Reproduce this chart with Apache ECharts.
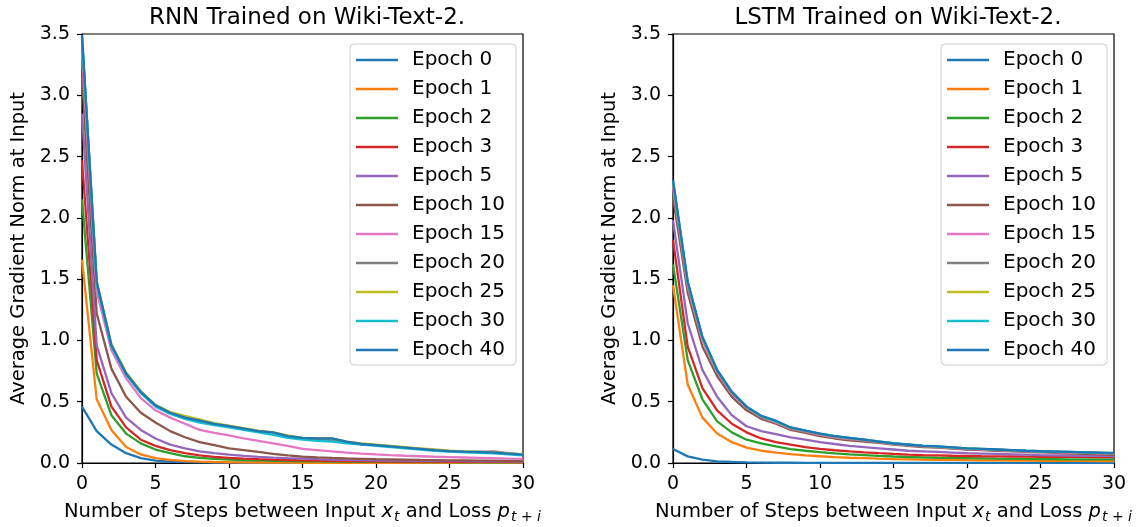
<!DOCTYPE html>
<html><head><meta charset="utf-8">
<script src="https://cdn.jsdelivr.net/npm/echarts@6/dist/echarts.min.js"></script>
<style>html,body{margin:0;padding:0;background:#fff}#c{width:1136px;height:527px}</style>
</head><body><div id="c"></div>
<script>
const steps = [0,1,2,3,4,5,6,7,8,9,10,11,12,13,14,15,16,17,18,19,20,21,22,23,24,25,26,27,28,29,30];
const seriesNames = ['Epoch 0','Epoch 1','Epoch 2','Epoch 3','Epoch 5','Epoch 10','Epoch 15','Epoch 20','Epoch 25','Epoch 30','Epoch 40'];
const colors = ['#1f77b4','#ff7f0e','#2ca02c','#d62728','#9467bd','#8c564b','#e377c2','#7f7f7f','#bcbd22','#17becf','#1f77b4'];
const yTicks = [0,0.5,1,1.5,2,2.5,3,3.5];
const xTicks = [0,5,10,15,20,25,30];

// RNN
const rnnE0  = [0.46,0.26,0.15,0.08,0.04,0.02,0.012,0.007,0.005,0.004,0.003,0.002,0.002,0.002,0.001,0.001,0.001,0.001,0.001,0.001,0.001,0.001,0.001,0.001,0.001,0.001,0.001,0.001,0.001,0.001,0.001];
const rnnE1  = [1.66,0.52,0.27,0.13,0.07,0.04,0.025,0.016,0.011,0.008,0.006,0.005,0.004,0.003,0.003,0.002,0.002,0.002,0.002,0.002,0.002,0.002,0.002,0.002,0.002,0.002,0.002,0.002,0.002,0.002,0.002];
const rnnE2  = [2.15,0.73,0.39,0.24,0.16,0.11,0.08,0.055,0.042,0.034,0.028,0.024,0.021,0.018,0.016,0.014,0.013,0.012,0.011,0.01,0.009,0.009,0.008,0.008,0.007,0.007,0.006,0.006,0.006,0.006,0.005];
const rnnE3  = [2.47,0.84,0.46,0.29,0.19,0.14,0.105,0.08,0.062,0.05,0.042,0.036,0.031,0.027,0.024,0.021,0.019,0.017,0.016,0.015,0.014,0.013,0.012,0.011,0.011,0.01,0.01,0.009,0.009,0.009,0.008];
const rnnE5  = [2.85,0.96,0.57,0.37,0.27,0.20,0.15,0.12,0.095,0.08,0.068,0.058,0.05,0.044,0.039,0.035,0.031,0.028,0.026,0.024,0.022,0.02,0.019,0.018,0.017,0.016,0.015,0.014,0.013,0.013,0.012];
const rnnE10 = [3.15,1.22,0.77,0.54,0.41,0.33,0.26,0.21,0.17,0.145,0.12,0.105,0.09,0.075,0.062,0.052,0.046,0.041,0.037,0.034,0.031,0.029,0.027,0.025,0.024,0.022,0.021,0.02,0.019,0.018,0.017];
const rnnE15 = [3.35,1.40,0.92,0.69,0.53,0.43,0.37,0.32,0.27,0.245,0.225,0.2,0.18,0.16,0.14,0.115,0.105,0.095,0.085,0.077,0.07,0.064,0.059,0.055,0.051,0.048,0.045,0.042,0.039,0.036,0.034];
const rnnE20 = [3.46,1.47,0.96,0.73,0.58,0.47,0.41,0.37,0.34,0.32,0.30,0.28,0.26,0.245,0.22,0.20,0.195,0.185,0.17,0.155,0.145,0.135,0.125,0.115,0.105,0.095,0.09,0.09,0.095,0.08,0.07];
const rnnE25 = [3.47,1.48,0.97,0.74,0.585,0.475,0.415,0.385,0.355,0.325,0.305,0.285,0.265,0.25,0.225,0.205,0.2,0.2,0.175,0.16,0.15,0.14,0.13,0.12,0.11,0.1,0.095,0.09,0.085,0.078,0.07];
const rnnE30 = [3.48,1.46,0.95,0.72,0.57,0.46,0.40,0.36,0.33,0.31,0.29,0.27,0.25,0.23,0.205,0.19,0.18,0.175,0.16,0.15,0.14,0.13,0.12,0.11,0.1,0.092,0.087,0.083,0.078,0.07,0.062];
const rnnE40 = [3.49,1.48,0.96,0.73,0.58,0.47,0.41,0.37,0.345,0.32,0.30,0.28,0.26,0.25,0.22,0.205,0.2,0.2,0.175,0.155,0.145,0.135,0.125,0.115,0.105,0.097,0.093,0.09,0.085,0.077,0.068];

// LSTM
const lstmE0  = [0.114,0.054,0.027,0.014,0.008,0.005,0.003,0.002,0.002,0.001,0.001,0.001,0.001,0.001,0.001,0.001,0.001,0.001,0.001,0.001,0.001,0.001,0.001,0.001,0.001,0.001,0.001,0.001,0.001,0.001,0.001];
const lstmE1  = [1.45,0.64,0.37,0.24,0.17,0.125,0.1,0.085,0.073,0.063,0.055,0.048,0.043,0.039,0.035,0.032,0.03,0.028,0.026,0.025,0.023,0.022,0.021,0.02,0.019,0.018,0.018,0.017,0.017,0.016,0.016];
const lstmE2  = [1.62,0.84,0.52,0.34,0.25,0.19,0.16,0.135,0.114,0.1,0.088,0.078,0.07,0.064,0.058,0.053,0.049,0.046,0.043,0.041,0.039,0.037,0.035,0.034,0.033,0.032,0.031,0.03,0.03,0.03,0.029];
const lstmE3  = [1.82,0.95,0.61,0.43,0.32,0.25,0.2,0.17,0.15,0.13,0.115,0.104,0.095,0.087,0.08,0.074,0.069,0.065,0.062,0.059,0.057,0.055,0.054,0.053,0.052,0.051,0.05,0.05,0.05,0.049,0.049];
const lstmE5  = [1.98,1.14,0.76,0.54,0.39,0.3,0.26,0.235,0.21,0.19,0.17,0.155,0.14,0.13,0.12,0.11,0.1,0.095,0.09,0.085,0.08,0.077,0.074,0.071,0.068,0.065,0.063,0.061,0.059,0.058,0.057];
const lstmE10 = [2.17,1.39,0.95,0.71,0.54,0.43,0.36,0.32,0.27,0.245,0.22,0.2,0.185,0.175,0.165,0.15,0.14,0.13,0.125,0.117,0.11,0.105,0.1,0.095,0.09,0.086,0.082,0.078,0.074,0.07,0.067];
const lstmE15 = [2.25,1.44,1.0,0.74,0.565,0.45,0.375,0.33,0.28,0.255,0.23,0.21,0.195,0.185,0.17,0.155,0.145,0.135,0.13,0.122,0.115,0.11,0.105,0.1,0.095,0.091,0.088,0.085,0.082,0.079,0.076];
const lstmE20 = [2.28,1.46,1.02,0.75,0.575,0.455,0.38,0.335,0.285,0.26,0.235,0.215,0.2,0.188,0.173,0.158,0.148,0.138,0.132,0.125,0.118,0.113,0.108,0.103,0.098,0.094,0.091,0.088,0.085,0.082,0.079];
const lstmE25 = [2.29,1.47,1.02,0.755,0.578,0.458,0.38,0.338,0.288,0.262,0.238,0.218,0.203,0.19,0.175,0.16,0.15,0.14,0.134,0.126,0.119,0.114,0.109,0.104,0.099,0.095,0.092,0.089,0.086,0.083,0.08];
const lstmE30 = [2.3,1.475,1.025,0.758,0.58,0.46,0.382,0.34,0.29,0.264,0.24,0.22,0.205,0.191,0.176,0.161,0.151,0.141,0.135,0.127,0.12,0.115,0.11,0.105,0.1,0.096,0.093,0.09,0.087,0.084,0.081];
const lstmE40 = [2.31,1.48,1.03,0.76,0.58,0.46,0.385,0.345,0.29,0.265,0.24,0.22,0.205,0.19,0.175,0.16,0.15,0.14,0.135,0.127,0.12,0.115,0.11,0.105,0.1,0.096,0.093,0.09,0.087,0.084,0.082];

const rnnData = [rnnE0,rnnE1,rnnE2,rnnE3,rnnE5,rnnE10,rnnE15,rnnE20,rnnE25,rnnE30,rnnE40];
const lstmData = [lstmE0,lstmE1,lstmE2,lstmE3,lstmE5,lstmE10,lstmE15,lstmE20,lstmE25,lstmE30,lstmE40];

const FONT = 'DejaVu Sans';
const chart = echarts.init(document.getElementById('c'), null, {renderer:'canvas'});

function xAxisFor(gi){
  return {
    type:'value', gridIndex:gi, min:0, max:30, interval:5,
    axisLine:{show:true,onZero:false,lineStyle:{color:'#000',width:1.2}},
    axisTick:{show:true,inside:false,length:5,lineStyle:{color:'#000',width:1.2}},
    axisLabel:{color:'#000',fontSize:19,fontFamily:FONT,margin:12},
    splitLine:{show:false},
    name:'Number of Steps between Input {i|x}{s|t} and Loss {i|p}{s|t + i}',
    nameLocation:'middle', nameGap:37,
    nameTextStyle:{color:'#000',fontSize:19.5,fontFamily:FONT,
      rich:{
        i:{fontSize:19.5,fontStyle:'italic',fontFamily:FONT,color:'#000'},
        s:{fontSize:14,fontStyle:'italic',fontFamily:FONT,color:'#000',padding:[10,0,0,1]}
      }}
  };
}
function yAxisFor(gi){
  return {
    type:'value', gridIndex:gi, min:0, max:3.5, interval:0.5,
    axisLine:{show:true,lineStyle:{color:'#000',width:1.2}},
    axisTick:{show:true,inside:false,length:5,lineStyle:{color:'#000',width:1.2}},
    axisLabel:{color:'#000',fontSize:19,fontFamily:FONT,margin:12,formatter:v=>v.toFixed(1)},
    splitLine:{show:false},
    name:'Average Gradient Norm at Input', nameLocation:'middle', nameGap:53,
    nameTextStyle:{color:'#000',fontSize:19.5,fontFamily:FONT}
  };
}

const series = [];
[rnnData, lstmData].forEach((dataSet, gi) => {
  dataSet.forEach((vals, k) => {
    series.push({
      name: seriesNames[k], type:'line', xAxisIndex:gi, yAxisIndex:gi,
      data: steps.map((s,j)=>[s, vals[j]]),
      showSymbol:false, symbol:'none', animation:false,
      lineStyle:{color:colors[k], width:2.3},
      itemStyle:{color:colors[k]}, z: 2 + k
    });
  });
});

function legendFor(left){
  return {
    left:left, top:44, orient:'vertical',
    data: seriesNames, icon:'rect', itemWidth:42, itemHeight:2.5, itemGap:9,
    padding:[6,11,5,6], borderColor:'#ccc', borderWidth:1, borderRadius:4,
    backgroundColor:'rgba(255,255,255,0.8)',
    textStyle:{color:'#000',fontSize:20,fontFamily:FONT,padding:[0,0,0,9]},
    selectedMode:false
  };
}

chart.setOption({
  animation:false,
  backgroundColor:'#fff',
  title:[
    {text:'RNN Trained on Wiki-Text-2.', left:302, top:2, textAlign:'center',
     textStyle:{fontSize:23,fontWeight:'normal',fontFamily:FONT,color:'#000'}},
    {text:'LSTM Trained on Wiki-Text-2.', left:893, top:2, textAlign:'center',
     textStyle:{fontSize:23,fontWeight:'normal',fontFamily:FONT,color:'#000'}}
  ],
  grid:[
    {left:82, right:613, top:34, bottom:64, show:true, borderColor:'#000', borderWidth:1.2, backgroundColor:'transparent', containLabel:false, outerBoundsMode:'none'},
    {left:673, right:22, top:34, bottom:64, show:true, borderColor:'#000', borderWidth:1.2, backgroundColor:'transparent', containLabel:false, outerBoundsMode:'none'}
  ],
  xAxis:[xAxisFor(0), xAxisFor(1)],
  yAxis:[yAxisFor(0), yAxisFor(1)],
  legend:[legendFor(350), legendFor(941)],
  series: series
});
</script></body></html>
